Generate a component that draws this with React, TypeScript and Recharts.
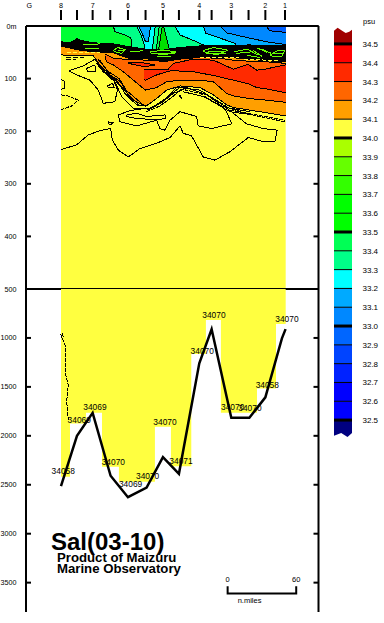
import { Area, ComposedChart, LabelList, Line, ReferenceLine, XAxis, YAxis } from 'recharts';

const FONT = '"Liberation Sans", Arial, sans-serif';
const BAR_RIGHT = 196.6;

// x is distance in n.miles from station 8, depth in metres
const stationTicks = [
  { nm: -27.7, label: 'G', mark: false },
  { nm: 0, label: '8', mark: true }, { nm: 14, label: '', mark: true },
  { nm: 27.7, label: '7', mark: true }, { nm: 43.1, label: '', mark: true },
  { nm: 58.6, label: '6', mark: true }, { nm: 74, label: '', mark: true },
  { nm: 89.2, label: '5', mark: true }, { nm: 103.2, label: '', mark: true },
  { nm: 121, label: '4', mark: true }, { nm: 131.8, label: '', mark: true },
  { nm: 149, label: '3', mark: true }, { nm: 164.1, label: '', mark: true },
  { nm: 178.8, label: '2', mark: true }, { nm: 196, label: '1', mark: true },
];
const upperTicks = [0, 100, 200, 300, 400, 500];
const lowerTicks = [1000, 1500, 2000, 2500, 3000, 3500];

// seafloor
const bottomX = [0, 14, 27.7, 43.4, 58.6, 74.9, 89.2, 103.2, 121, 131.8, 149, 164.8, 178.8, 193.3, 196.5];
const bottomDepth = [2514, 2000, 1765, 2408, 2627, 2528, 2218, 2388, 1260, 912, 1816, 1816, 1607, 1004, 910];

// deepest sample column of each cast
const columnX = [0, 7.9, 21.9, 35.9, 50.7, 82.2, 96.2, 114, 126.8, 139.9, 171.5, 188.1, BAR_RIGHT];
const columnDepth = [2419, 1873, 1764, 2316, 2470, 1907, 2310, 1165, 817, 1764, 1516, 858, 858];

// salinity at the deepest sample
const sampleText = ['34058', '34069', '34069', '34070', '34069', '34070', '34070', '34071', '34070', '34070', '34070', '34070', '34058', '34070'];
const sampleX = [2, 16, 29.7, 45.8, 60.9, 75.8, 91, 105, 123.6, 133.8, 150.2, 165.3, 180.5, 197.7];
const sampleDepth = [2361, 1839, 1706, 2269, 2490, 2412, 1860, 2258, 1134, 766, 1706, 1713, 1481, 807];

// surface water: [x, top, bottom]
const surfaceBase = [[0, 0, 50], [BAR_RIGHT, 0, 50]];
const surfaceSpring = [[45.8, 0, 0], [47.2, 0, 11], [56, 0, 17], [61.2, 0, 23], [62.7, 0, 50], [BAR_RIGHT, 0, 50]];
const surfaceCyan = [[66.2, 0, 0], [70.6, 0, 20], [72.9, 0, 36], [74, 0, 50], [BAR_RIGHT, 0, 50]];
const surfaceFan = [[67.7, 0, 0], [70.6, 0, 12], [74, 0, 30], [76.4, 0, 30], [78.4, 0, 0]];
const surfaceSpring2 = [[79.6, 50, 50], [82.5, 0, 50], [BAR_RIGHT, 0, 50]];
const surfaceGreen = [[83.1, 50, 50], [86, 0, 50], [BAR_RIGHT, 0, 50]];
const surfaceSpike = [[85.1, 50, 50], [88.6, 0, 50], [BAR_RIGHT, 0, 50]];
const surfaceSpring3 = [[89.8, 0, 0], [93.9, 0, 36], [95.4, 0, 50], [BAR_RIGHT, 0, 50]];
const surfaceCyan2 = [[99.7, 0, 0], [104.1, 0, 17], [118.7, 0, 30], [124.5, 0, 36], [127.4, 0, 50], [BAR_RIGHT, 0, 50]];
const surfaceSky = [[124.5, 0, 0], [126.8, 0, 14], [139.1, 0, 23], [152.2, 0, 33], [156.6, 0, 50], [BAR_RIGHT, 0, 50]];
const surfaceBlue = [[139.1, 0, 0], [144.9, 0, 13], [156.6, 0, 19], [179.9, 0, 30], [196, 0, 35], [BAR_RIGHT, 0, 35]];
const surfaceDeep = [[179.9, 0, 0], [182.2, 0, 9], [196, 0, 12], [BAR_RIGHT, 0, 12]];

// below the halocline: [x, top, bottom]
const band341 = [[0, 34, 55], [13.7, 33, 56], [28.3, 40, 57], [34.1, 40, 74], [39.9, 41, 87], [45.8, 42, 100], [54.5, 47, 119], [63.3, 51, 141], [74, 53, 153], [83.7, 55, 138], [92.4, 58, 122], [104.1, 52, 114], [121.6, 49, 117], [133.3, 48, 131], [144.9, 48, 150], [150.8, 49, 155], [165.3, 49, 160], [179.9, 51, 165], [BAR_RIGHT, 52, 171]];
const band342 = [[38.5, 55, 57], [39.9, 55, 68], [45.8, 61, 74], [54.5, 63, 87], [63.3, 63, 103], [74, 65, 122], [83.7, 66, 117], [92.4, 67, 106], [104.1, 62, 103], [121.6, 60, 103], [133.3, 61, 106], [144.9, 63, 128], [150.8, 65, 133], [165.3, 67, 138], [179.9, 68, 141], [BAR_RIGHT, 71, 145]];
const band343 = [[72.6, 82, 101], [74, 82, 103], [83.7, 82, 93], [93.9, 82, 86], [98.3, 71, 85], [115.8, 63, 87], [133.3, 65, 94], [150.8, 82, 103], [163.9, 73, 110], [171.2, 84, 117], [178.5, 82, 119], [BAR_RIGHT, 74, 127]];
const band343Sliver = [[58.9, 70, 71], [72, 70, 77], [82.2, 74, 75]];

// packed isolines of the halocline
const blackBand = [[0, 30, 38], [7.9, 32, 42], [12.4, 27, 44], [14, 23, 44], [16.6, 27, 46], [28.3, 32, 49], [45.8, 34, 51], [58.9, 39, 61], [74, 44, 62], [89.2, 46, 68], [103.2, 41, 63], [121, 38, 60], [131.8, 37, 60], [149, 38, 60], [164.1, 36, 63], [178.8, 37, 66], [BAR_RIGHT, 36, 68]];

const limeLines = [
  [[46, 46], [50, 41], [56, 45], [53, 52], [47, 49], [46, 46]],
  [[50, 46], [55, 46]],
  [[60, 49], [72, 47]],
  [[78, 49], [90, 46], [101, 49], [90, 55], [78, 51], [78, 49]],
  [[80, 52], [100, 52]],
  [[84, 58], [96, 58]],
  [[125, 46], [134, 41], [146, 46], [136, 55], [125, 49], [125, 46]],
  [[129, 49], [142, 49]],
  [[127, 52], [144, 52]],
  [[151, 49], [163, 44], [172, 55]],
  [[153, 52], [165, 50]],
  [[163, 56], [174, 60]],
  [[168, 46], [176, 58]],
  [[172, 42], [180, 50]],
  [[176, 44], [184, 52]],
  [[183, 55], [190, 46], [196, 46], [193, 58], [185, 58], [183, 55]],
  [[186, 52], [195, 52]],
  [[21, 43], [33, 43]],
  [[19, 36], [34, 34]],
];
const yellowDashes = [[[5, 50], [34, 50]], [[122, 60], [156, 59]], [[160, 63], [190, 66]]];
const blackDashes = [[[4, 60], [20, 60]], [[4, 64], [13, 64]]];

// single isolines
const contourSolid = [
  [[0, 235], [13.7, 226], [23.9, 207], [34.1, 199], [43.4, 195], [44.9, 217], [50.2, 236], [58.9, 249], [69.1, 233], [83.7, 223], [95.4, 212], [104.1, 190], [107, 204], [114.3, 209], [124.5, 249], [134.7, 255], [147.8, 239], [163.9, 212], [177, 220], [187.2, 220], [189.2, 198], [177, 195], [162.4, 186], [150.8, 166]],
  [[50.2, 169], [51.6, 182], [66.2, 190], [83.7, 179], [86.6, 195], [91, 198], [95.4, 179], [104.1, 163], [118.7, 172], [120.1, 190], [131.8, 195], [149.3, 186], [144.9, 163], [136.2, 144], [127.4, 131], [109.9, 117], [101.2, 117], [91, 139], [77.9, 157], [72, 157], [60.4, 161], [50.2, 169]],
  [[57.4, 169], [66.2, 166], [74.9, 172], [91, 169], [91.6, 176], [83.7, 178], [66.2, 176], [57.4, 172], [57.4, 169]],
  [[7, 85], [19.5, 76], [29.7, 63], [34.1, 77], [39.9, 93], [47.2, 106], [53.1, 134], [63.3, 157], [74, 157]],
  [[7, 85], [13.7, 93], [25.4, 103], [32.7, 122], [37, 147], [47.2, 144], [49.3, 122], [45.8, 100], [37, 87], [31.2, 71]],
  [[32, 62], [41, 86], [51, 100], [57, 122], [72, 150]],
  [[31.2, 68], [38.5, 87], [48.7, 103], [56, 128], [66.2, 150], [74, 152]],
  [[34.1, 65], [42.9, 93], [52.2, 106], [58.9, 131], [69.1, 152]],
  [[0, 101], [3.5, 106], [3.5, 119], [0, 120]],
  [[41.4, 182], [45.2, 184], [43.4, 188], [41.4, 186], [41.4, 182]],
  [[40.8, 114], [45.2, 109], [46.4, 117], [41.4, 117], [40.8, 114]],
  [[21.9, 81], [29.7, 74], [30.3, 87], [23.9, 87], [21.9, 81]],
  [[74.9, 159], [86.6, 147], [95.4, 131], [104.1, 117], [121.6, 122], [133.3, 138], [144.9, 155], [165.3, 163]],
  [[76.4, 160], [89.2, 144], [98.3, 128], [105.6, 122]],
  [[107, 125], [124.5, 134], [136.2, 148], [147.8, 163], [168.3, 169]],
  [[104.1, 131], [105.6, 138], [103.5, 134], [104.1, 131]],
];
const contourDashed = [
  [[0, 131], [6.4, 133], [15.2, 141], [9.3, 152], [0, 159]],
  [[196, 182], [171.2, 171], [147.8, 157], [136.2, 141]],
  [[74.9, 163], [86.6, 152], [96.8, 136], [105.6, 120], [121.6, 128], [133.3, 144], [147.8, 160], [196, 179]],
];
const deepDashed = [[1.2, 953], [2, 987], [0, 970], [4.1, 1090], [4.1, 1379], [6.4, 1481], [5, 1652], [6.4, 1839]];

const scaleX = [145.8, 145.8, 205.8, 205.8];
const scaleDepth = [3537, 3612, 3612, 3537];
const scaleText = [{ x: 145.8, y: 3470, text: '0' }, { x: 205.8, y: 3470, text: '60' }, { x: 165, y: 3685, text: 'n.miles' }];

// colour bar
const psuLevels = [32.5, 32.6, 32.7, 32.8, 32.9, 33, 33.1, 33.2, 33.3, 33.4, 33.5, 33.6, 33.7, 33.8, 33.9, 34, 34.1, 34.2, 34.3, 34.4, 34.5];
const psuColors = ['#0000ff', '#0000ff', '#0022ff', '#0044ff', '#0066ff', '#0088ff', '#00aaff', '#00ffff', '#00ff88', '#00ff55', '#00ff00', '#00ff00', '#33ff00', '#66ff00', '#aaff00', '#ffff40', '#ff9f00', '#ff6600', '#ff2a00', '#ff0000'];
const capTopX = [0, 0.2, 0.45, 0.65, 0.85, 1];
const capTopPsu = [34.57, 34.586, 34.57, 34.558, 34.565, 34.576];
const capBottomX = [0, 0.4, 0.75, 1];
const capBottomPsu = [32.416, 32.431, 32.41, 32.431];

const toBand = (pts: number[][]) => pts.map(([x, a, b]) => ({ x, v: [a, b] }));
const toLine = (pts: number[][]) => pts.map(([x, y]) => ({ x, y }));
const zip = (xs: number[], ys: number[]) => xs.map((x, i) => ({ x, y: ys[i] }));

const surfaceLayers: [number[][], string, string][] = [
  [surfaceBase, '#00ff33', 'none'],
  [surfaceSpring, '#00ff88', '#000'],
  [surfaceCyan, '#00ffff', '#000'],
  [surfaceFan, '#00aaff', '#000'],
  [surfaceSpring2, '#00ff88', '#000'],
  [surfaceGreen, '#00ff44', '#000'],
  [surfaceSpike, '#00e000', '#000'],
  [surfaceSpring3, '#00ff88', '#000'],
  [surfaceCyan2, '#00ffff', '#000'],
  [surfaceSky, '#00aaff', '#000'],
  [surfaceBlue, '#0088ff', '#000'],
  [surfaceDeep, '#0060ff', '#000'],
];
const deepLayers: [number[][], string][] = [
  [band341, '#ff9f00'],
  [band342, '#ff6600'],
  [band343, '#ff2a00'],
  [band343Sliver, '#ff2a00'],
];

const xProps = { dataKey: 'x', type: 'number' as const, domain: [-30.6, 225.3], allowDataOverflow: true };
const tickLabel = { fontFamily: FONT, fontSize: 7.2, fill: '#000' };

function StationTick({ x, y, payload }: any) {
  const s = stationTicks.find(t => t.nm === payload.value);
  return (
    <g>
      {s?.mark && <line x1={x} x2={x} y1={y - 16} y2={y - 6} stroke="#000" strokeWidth={2} />}
      <text x={x} y={y - 18} textAnchor="middle" {...tickLabel}>{s?.label}</text>
    </g>
  );
}

function DepthTick({ x, y, payload }: any) {
  return (
    <g>
      <line x1={x} x2={x + 5} y1={y} y2={y} stroke="#000" strokeWidth={2} />
      <text x={x - 9.5} y={y + 2.5} textAnchor="end" {...tickLabel}>{payload.value === 0 ? '0m' : payload.value}</text>
    </g>
  );
}

function RightTick({ x, y }: any) {
  return <line x1={x - 5} x2={x} y1={y} y2={y} stroke="#000" strokeWidth={2} />;
}

function PsuTick({ x, y, payload }: any) {
  return <text x={x + 10.5} y={y + 3} fontFamily={FONT} fontSize={8} fill="#000">{payload.value.toFixed(1)}</text>;
}

const thinLine = (pts: number[][], key: string, stroke: string, dash?: string) => (
  <Line key={key} data={toLine(pts)} dataKey="y" stroke={stroke} strokeWidth={1} strokeDasharray={dash} shapeRendering="crispEdges" dot={false} isAnimationActive={false} />
);

function UpperChart() {
  return (
    <ComposedChart width={384} height={292} margin={{ top: 0, right: 0, bottom: 3, left: 0 }} style={{ position: 'absolute', left: 0, top: 0 }}>
      <XAxis {...xProps} orientation="top" height={26} ticks={stationTicks.map(t => t.nm)} interval={0} tickSize={0} tickMargin={0} tickLine={false} axisLine={{ stroke: '#000', strokeWidth: 2 }} tick={(p: any) => <StationTick {...p} />} />
      <YAxis type="number" reversed domain={[0, 500]} allowDataOverflow width={26} ticks={upperTicks} interval={0} tickSize={0} tickMargin={0} tickLine={false} axisLine={{ stroke: '#000', strokeWidth: 2 }} tick={(p: any) => <DepthTick {...p} />} />
      <YAxis yAxisId="right" orientation="right" reversed type="number" domain={[0, 500]} allowDataOverflow width={65.5} ticks={upperTicks} interval={0} tickSize={0} tickMargin={0} tickLine={false} axisLine={{ stroke: '#000', strokeWidth: 2 }} tick={(p: any) => <RightTick {...p} />} />
      <Area data={toBand([[0, 0, 500], [BAR_RIGHT, 0, 500]])} dataKey="v" type="linear" fill="#ffff40" fillOpacity={1} stroke="none" isAnimationActive={false} />
      {surfaceLayers.map(([pts, color, stroke], i) => (
        <Area key={`s${i}`} data={toBand(pts)} dataKey="v" type="linear" fill={color} fillOpacity={1} stroke={stroke} strokeWidth={1} shapeRendering="crispEdges" isAnimationActive={false} />
      ))}
      {deepLayers.map(([pts, color], i) => (
        <Area key={`d${i}`} data={toBand(pts)} dataKey="v" type="linear" fill={color} fillOpacity={1} stroke="#000" strokeWidth={1} shapeRendering="crispEdges" isAnimationActive={false} />
      ))}
      {contourSolid.map((pts, i) => thinLine(pts, `c${i}`, '#000'))}
      {contourDashed.map((pts, i) => thinLine(pts, `e${i}`, '#000', '4 1'))}
      <Area data={toBand(blackBand)} dataKey="v" type="linear" fill="#000" fillOpacity={1} stroke="#000" shapeRendering="crispEdges" isAnimationActive={false} />
      {limeLines.map((pts, i) => thinLine(pts, `l${i}`, '#66ff00'))}
      {yellowDashes.map((pts, i) => thinLine(pts, `y${i}`, '#ffff40', '4 2'))}
      {blackDashes.map((pts, i) => thinLine(pts, `b${i}`, '#000', '5 2'))}
      <ReferenceLine y={500} stroke="#000" strokeWidth={2} />
    </ComposedChart>
  );
}

function LowerChart() {
  return (
    <ComposedChart width={384} height={326} margin={{ top: 0, right: 0, bottom: 3, left: 0 }} style={{ position: 'absolute', left: 0, top: 289 }}>
      <XAxis {...xProps} orientation="bottom" height={0} ticks={[]} tick={false} tickLine={false} axisLine={{ stroke: '#000', strokeWidth: 2 }} />
      <YAxis type="number" reversed domain={[500, 3800]} allowDataOverflow width={26} ticks={lowerTicks} interval={0} tickSize={0} tickMargin={0} tickLine={false} axisLine={{ stroke: '#000', strokeWidth: 2 }} tick={(p: any) => <DepthTick {...p} />} />
      <YAxis yAxisId="right" orientation="right" reversed type="number" domain={[500, 3800]} allowDataOverflow width={65.5} ticks={lowerTicks} interval={0} tickSize={0} tickMargin={0} tickLine={false} axisLine={{ stroke: '#000', strokeWidth: 2 }} tick={(p: any) => <RightTick {...p} />} />
      <Area data={columnX.map((x, i) => ({ x, v: [500, columnDepth[i]] }))} dataKey="v" type="stepAfter" fill="#ffff40" fillOpacity={1} stroke="none" isAnimationActive={false} />
      {thinLine(deepDashed, 'deep', '#000', '4 1')}
      <Line data={zip(bottomX, bottomDepth)} dataKey="y" stroke="#000" strokeWidth={2.5} dot={false} isAnimationActive={false} />
      <Line data={zip(scaleX, scaleDepth)} dataKey="y" stroke="#000" strokeWidth={2} dot={false} isAnimationActive={false} />
      <Line data={sampleX.map((x, i) => ({ x, y: sampleDepth[i], text: sampleText[i] }))} dataKey="y" stroke="none" dot={false} isAnimationActive={false}>
        <LabelList dataKey="text" position="center" style={{ fontFamily: FONT, fontSize: 8.4, fill: '#000' }} />
      </Line>
      <Line data={scaleText} dataKey="y" stroke="none" dot={false} isAnimationActive={false}>
        <LabelList dataKey="text" position="center" style={{ fontFamily: FONT, fontSize: 7.5, fill: '#000' }} />
      </Line>
    </ComposedChart>
  );
}

function ColorBar() {
  const bands = psuColors.map((c, i) => ({ c, data: [{ x: 0, v: [psuLevels[i], psuLevels[i + 1]] }, { x: 1, v: [psuLevels[i], psuLevels[i + 1]] }] }));
  return (
    <ComposedChart width={50} height={411} margin={{ top: 0, right: 0, bottom: 1, left: 0 }} style={{ position: 'absolute', left: 334, top: 27 }}>
      <XAxis dataKey="x" type="number" domain={[0, 1]} hide />
      <YAxis orientation="right" type="number" domain={[32.41, 34.59]} allowDataOverflow width={32} ticks={psuLevels} interval={0} tickSize={0} tickMargin={0} tickLine={false} axisLine={false} tick={(p: any) => <PsuTick {...p} />} />
      {bands.map((b, i) => (
        <Area key={i} data={b.data} dataKey="v" type="linear" fill={b.c} fillOpacity={1} stroke="none" isAnimationActive={false} />
      ))}
      <Area data={capTopX.map((x, i) => ({ x, v: [34.5, capTopPsu[i]] }))} dataKey="v" type="linear" fill="#a00000" fillOpacity={1} stroke="none" isAnimationActive={false} />
      <Area data={capBottomX.map((x, i) => ({ x, v: [capBottomPsu[i], 32.5] }))} dataKey="v" type="linear" fill="#000080" fillOpacity={1} stroke="none" isAnimationActive={false} />
      {psuLevels.map((l, i) => (
        <ReferenceLine key={l} y={l} stroke="#000" strokeWidth={i % 5 === 0 ? 3 : 1} />
      ))}
    </ComposedChart>
  );
}

export default function App() {
  return (
    <div style={{ position: 'absolute', left: 0, top: 0, width: 384, height: 623, background: '#fff', overflow: 'hidden' }}>
      <UpperChart />
      <LowerChart />
      <ColorBar />
      <div style={{ position: 'absolute', left: 363, top: 17, fontFamily: FONT, fontSize: 7.5 }}>psu</div>
      <div style={{ position: 'absolute', left: 51, top: 529, fontFamily: FONT, fontWeight: 700, fontSize: 24, lineHeight: '26px', whiteSpace: 'nowrap' }}>Sal(03-10)</div>
      <div style={{ position: 'absolute', left: 57, top: 553, fontFamily: FONT, fontWeight: 700, fontSize: 13.2, lineHeight: '10.5px', whiteSpace: 'nowrap' }}>
        Product of Maizuru<br />Marine Observatory
      </div>
    </div>
  );
}
